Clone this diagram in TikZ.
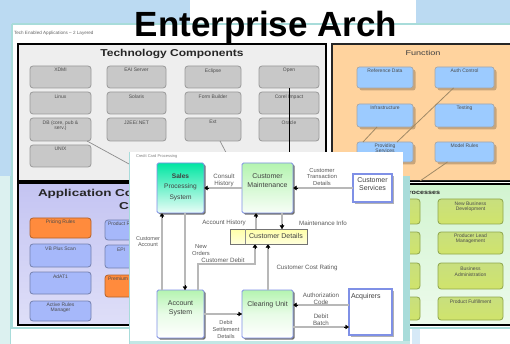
\documentclass[tikz,border=0pt]{standalone}
\usepackage{fontspec}
\setmainfont{Liberation Sans}
\usetikzlibrary{arrows.meta,calc}
\definecolor{bgblue}{HTML}{BBDAF2}
\definecolor{tealc}{HTML}{A8DCDA}
\definecolor{techpanel}{HTML}{EEEEEE}
\definecolor{techgray}{HTML}{C8C8C8}
\definecolor{funcpanel}{HTML}{FFD39E}
\definecolor{funcblue}{HTML}{9CCBFF}
\definecolor{funcshadow}{HTML}{C9A57A}
\definecolor{funcline}{HTML}{A08A66}
\definecolor{apppanel}{HTML}{C4C4F2}
\definecolor{appblue}{HTML}{A6B8FA}
\definecolor{apporange}{HTML}{FF8B3D}
\definecolor{procpanel}{HTML}{D2F4D0}
\definecolor{procgreen}{HTML}{C8DF7E}
\definecolor{procedge}{HTML}{8FA64C}
\definecolor{flowgrey}{HTML}{B8B8B8}
\definecolor{nodeblue}{HTML}{7F90E6}
\definecolor{salestop}{HTML}{00E6A2}
\definecolor{greentop}{HTML}{B4F4B0}
\definecolor{yellowbox}{HTML}{FFFFA8}
\begin{document}
\begin{tikzpicture}[x=1pt,y=-1pt,
  every node/.style={inner sep=0pt,outer sep=0pt},
  techbox/.style={draw=black!40,fill=techgray,rounded corners=3pt,line width=0.8pt,minimum height=22},
  tinytxt/.style={font=\fontsize{5}{5.6}\selectfont,text=black!70,align=center},
  funcbox/.style={draw=black!35,fill=funcblue,rounded corners=2.5pt,line width=0.7pt,
     preaction={fill=funcshadow,transform canvas={shift={(2.5pt,-2.5pt)}}}},
  appbox/.style={draw=appblue!70!black,fill=appblue,rounded corners=3pt,line width=0.8pt},
  apporng/.style={draw=apporange!70!black,fill=apporange,rounded corners=3pt,line width=0.8pt},
  procbox/.style={draw=procedge,top color=procgreen,bottom color=procgreen!85!yellow,rounded corners=3pt,line width=0.8pt},
  fgnode/.style={draw=nodeblue,line width=0.9pt,rounded corners=1.5pt,
     preaction={fill=black!55,transform canvas={shift={(1.6pt,-1.6pt)}}}},
  fgwhite/.style={draw=nodeblue,fill=white,line width=1.4pt,
     preaction={fill=black!30,transform canvas={shift={(1.6pt,-1.6pt)}}}},
  nodetxt/.style={font=\fontsize{7}{8.4}\selectfont,text=black!75,align=center},
  lbl/.style={font=\fontsize{6.2}{6.8}\selectfont,text=black!65,align=center},
  flow/.style={draw=flowgrey,line width=1.6pt},
  tip/.style={-{Triangle[width=4.5pt,length=3.5pt,black]}}
]
\useasboundingbox (0,0) rectangle (510,344);
% background
\fill[white] (0,0) rectangle (510,344);
\fill[bgblue] (0,0) rectangle (190,24);
\fill[bgblue] (0,0) rectangle (12,176);
\fill[bgblue] (416,0) rectangle (510,24);
\fill[tealc!40] (0,176) rectangle (10,344);
\draw[tealc,line width=1pt] (10,176) -- (10,344);
% window
\fill[white] (12,24) rectangle (510,328);
\draw[tealc,line width=1.4pt] (12,24) -- (510,24);
\draw[tealc,line width=1.4pt] (12,24) -- (12,328) -- (510,328);
\fill[bgblue!60] (412,329) rectangle (420,344);
\node[anchor=west,font=\fontsize{4.6}{5}\selectfont,text=black!60] (wintitle) at (14,33) {Tech Enabled Applications -- 2 Layered};

% ---------------- Technology Components panel
\filldraw[fill=techpanel,draw=black,line width=1.5pt] (18,44) rectangle (326,181);
\node[font=\bfseries\fontsize{10}{10}\selectfont,text=black!85] (techtitle) at (172,54) {\scalebox{1.2}[1]{Technology Components}};
\node[techbox,minimum width=61] (t11) at (60.5,77) {};
\node[techbox,minimum width=59] (t12) at (136.5,77) {};
\node[techbox,minimum width=56] (t13) at (213,77) {};
\node[techbox,minimum width=60] (t14) at (289,77) {};
\node[techbox,minimum width=61] (t21) at (60.5,103) {};
\node[techbox,minimum width=59] (t22) at (136.5,103) {};
\node[techbox,minimum width=56] (t23) at (213,103) {};
\node[techbox,minimum width=60] (t24) at (289,103) {};
\node[techbox,minimum width=61,minimum height=23] (t31) at (60.5,129.5) {};
\node[techbox,minimum width=59,minimum height=23] (t32) at (136.5,129.5) {};
\node[techbox,minimum width=56,minimum height=23] (t33) at (213,129.5) {};
\node[techbox,minimum width=60,minimum height=23] (t34) at (289,129.5) {};
\node[techbox,minimum width=61] (t41) at (60.5,156) {};
\node[tinytxt,anchor=north] (t11l) at ([yshift=-2.5pt]t11.north) {XDMI};
\node[tinytxt,anchor=north] (t12l) at ([yshift=-2.5pt]t12.north) {EAI Server};
\node[tinytxt,anchor=north] (t13l) at ([yshift=-2.5pt]t13.north) {Eclipse};
\node[tinytxt,anchor=north] (t14l) at ([yshift=-2.5pt]t14.north) {Open};
\node[tinytxt,anchor=north] (t21l) at ([yshift=-2.5pt]t21.north) {Linux};
\node[tinytxt,anchor=north] (t22l) at ([yshift=-2.5pt]t22.north) {Solaris};
\node[tinytxt,anchor=north] (t23l) at ([yshift=-2.5pt]t23.north) {Form Builder};
\node[tinytxt,anchor=north] (t24l) at ([yshift=-2.5pt]t24.north) {Corel Impact};
\node[tinytxt,anchor=north] (t31l) at ([yshift=-2.5pt]t31.north) {DB (core, pub \&\\serv.)};
\node[tinytxt,anchor=north] (t32l) at ([yshift=-2.5pt]t32.north) {J2EE/.NET};
\node[tinytxt,anchor=north] (t33l) at ([yshift=-2.5pt]t33.north) {Ext};
\node[tinytxt,anchor=north] (t34l) at ([yshift=-2.5pt]t34.north) {Oracle};
\node[tinytxt,anchor=north] (t41l) at ([yshift=-2.5pt]t41.north) {UNIX};
\coordinate (techend1) at (140,170);
\coordinate (techend2) at (232,164);
\coordinate (techend3) at (289,165);
\draw[black!45,line width=0.7pt] ([xshift=-4pt]t31.south east) -- (techend1);
\draw[black!45,line width=0.7pt] ([xshift=7pt]t33.south) -- (techend2);
\draw[black,line width=0.8pt] (t14.south) -- (techend3);

% ---------------- Function panel
\filldraw[fill=funcpanel,draw=black!85,line width=1.5pt] (332,44) rectangle (512,181);
\node[font=\fontsize{7}{7}\selectfont,text=black!75] (functitle) at (423,53) {\scalebox{1.3}[1]{Function}};
\node[funcbox,minimum width=56,minimum height=21] (f11) at (385,77.5) {};
\node[funcbox,minimum width=59,minimum height=21] (f12) at (464.5,77.5) {};
\node[funcbox,minimum width=56,minimum height=23] (f21) at (385,115.5) {};
\node[funcbox,minimum width=59,minimum height=23] (f22) at (464.5,115.5) {};
\node[funcbox,minimum width=56,minimum height=20] (f31) at (385,152) {};
\node[funcbox,minimum width=59,minimum height=20] (f32) at (464.5,152) {};
\node[tinytxt,anchor=north] (f11l) at ([yshift=-2pt]f11.north) {Reference Data};
\node[tinytxt,anchor=north] (f12l) at ([yshift=-2pt]f12.north) {Auth Control};
\node[tinytxt,anchor=north] (f21l) at ([yshift=-2pt]f21.north) {Infrastructure};
\node[tinytxt,anchor=north] (f22l) at ([yshift=-2pt]f22.north) {Testing};
\node[tinytxt,anchor=north] (f31l) at ([yshift=-1.5pt]f31.north) {Providing\\Services};
\node[tinytxt,anchor=north] (f32l) at ([yshift=-2pt]f32.north) {Model Rules};
\coordinate (funcend3) at (420,181);
\draw[funcline,line width=0.8pt] ([xshift=-11pt]f12.south) -- ([xshift=12pt]f31.north);
\draw[funcline,line width=0.8pt] ([xshift=-8pt]f21.south) -- ([xshift=-22pt]f31.north);
\draw[funcline,line width=0.8pt] ([xshift=-17pt]f32.south) -- (funcend3);

% ---------------- Application Components panel
\shade[top color=apppanel,bottom color=apppanel!55!white] (18,183) rectangle (400,325);
\draw[black,line width=1.5pt] (18,183) rectangle (400,325);
\node[anchor=west,font=\bfseries\fontsize{10}{10}\selectfont,text=black!85] (apptitle) at (38,194) {\scalebox{1.35}[1]{Application Components}};
\node[anchor=west,font=\bfseries\fontsize{10}{10}\selectfont,text=black!85] (apptitle2) at (119,207) {\scalebox{1.35}[1]{Catalogue}};
\node[apporng,minimum width=61,minimum height=20] (a11) at (60.5,228) {};
\node[appbox,minimum width=61,minimum height=23] (a21) at (60.5,255.5) {};
\node[appbox,minimum width=61,minimum height=22] (a31) at (60.5,283) {};
\node[appbox,minimum width=61,minimum height=20] (a41) at (60.5,311) {};
\node[appbox,minimum width=60,minimum height=20] (a12) at (135,230) {};
\node[appbox,minimum width=60,minimum height=23] (a22) at (135,256.5) {};
\node[apporng,minimum width=60,minimum height=22] (a32) at (135,286) {};
\node[tinytxt,anchor=north] (a11l) at ([yshift=-2pt]a11.north) {Pricing Rules};
\node[tinytxt,anchor=north] (a21l) at ([yshift=-2.5pt]a21.north) {VB Plus Scan};
\node[tinytxt,anchor=north] (a31l) at ([yshift=-2.5pt]a31.north) {AdAT1};
\node[tinytxt,anchor=north] (a41l) at ([yshift=-1.5pt]a41.north) {Active Rules\\Manager};
\node[tinytxt,anchor=north west] (a12l) at ([shift={(3pt,-2pt)}]a12.north west) {Product Rules};
\node[tinytxt,anchor=north west] (a22l) at ([shift={(12pt,-3pt)}]a22.north west) {EPI};
\node[tinytxt,anchor=north west] (a32l) at ([shift={(3pt,-2pt)}]a32.north west) {Premium Calc};

% ---------------- Processes panel
\shade[top color=procpanel,bottom color=procpanel!40!white] (406,184) rectangle (512,324);
\draw[black,line width=0.8pt] (406,181.5) -- (512,181.5);
\draw[black,line width=1.5pt] (406,184) -- (512,184);
\draw[black,line width=2pt] (406,324.5) -- (512,324.5);
\node[anchor=west,font=\bfseries\fontsize{6}{6}\selectfont,text=black!85] (proctitle) at (404,192) {\scalebox{1.2}[1]{Processes}};
\node[procbox,minimum width=60,minimum height=25] (q1) at (390,211.5) {};
\node[procbox,minimum width=60,minimum height=22] (q2) at (390,243) {};
\node[procbox,minimum width=60,minimum height=26] (q3) at (390,276) {};
\node[procbox,minimum width=60,minimum height=23] (q4) at (390,308.5) {};
\node[procbox,minimum width=65,minimum height=25] (p1) at (470.5,211.5) {};
\node[procbox,minimum width=65,minimum height=22] (p2) at (470.5,243) {};
\node[procbox,minimum width=65,minimum height=26] (p3) at (470.5,276) {};
\node[procbox,minimum width=65,minimum height=23] (p4) at (470.5,308.5) {};
\node[tinytxt,anchor=north] (p1l) at ([yshift=-2.5pt]p1.north) {New Business\\Development};
\node[tinytxt,anchor=north] (p2l) at ([yshift=-1.5pt]p2.north) {Producer Lead\\Management};
\node[tinytxt,anchor=north] (p3l) at ([yshift=-4pt]p3.north) {Business\\Administration};
\node[tinytxt,anchor=north] (p4l) at ([yshift=-2.5pt]p4.north) {Product Fulfillment};

% ---------------- foreground diagram sheet
\fill[tealc] (403,176) rectangle (410,344);
\fill[tealc!70] (130,341) rectangle (410,344);
\fill[white] (130,152) rectangle (403,341);
\draw[tealc,line width=1.2pt] (129.5,152) -- (129.5,344);
\node[anchor=west,font=\fontsize{4}{4}\selectfont,text=black!50] (fgtitle) at (136,156) {Credit Card Processing};

% nodes
\node[fgnode,top color=salestop,bottom color=salestop!8!white,minimum width=47,minimum height=50] (Sales) at (180.5,188) {};
\node[nodetxt,font=\bfseries\fontsize{6.6}{6.6}\selectfont] (Sales1) at (180.5,176.5) {Sales};
\node[nodetxt,font=\fontsize{6.6}{6.6}\selectfont] (Sales2) at (180.5,186.5) {Processing};
\node[nodetxt,font=\fontsize{6.6}{6.6}\selectfont] (Sales3) at (180.5,197.5) {System};
\node[fgnode,top color=greentop,bottom color=greentop!10!white,minimum width=51,minimum height=50] (CM) at (267.5,188) {};
\node[nodetxt,anchor=north] (CMl) at ([yshift=-11pt]CM.north) {Customer\\Maintenance};
\node[fgwhite,minimum width=39,minimum height=28] (CS) at (372.5,188) {};
\node[nodetxt,anchor=north] (CSl) at ([yshift=-3.5pt]CS.north) {Customer\\Services};
\node[draw=black!55,line width=0.8pt,top color=yellowbox,bottom color=yellowbox!40!white,minimum width=77,minimum height=15,
  preaction={fill=black!50,transform canvas={shift={(1.4pt,-1.4pt)}}}] (CD) at (268.5,236.5) {};
\coordinate (cdsep) at (245,0);
\draw[black!45,line width=0.6pt] (CD.north -| cdsep) -- (CD.south -| cdsep);
\node[nodetxt] (CDl) at (276,236) {Customer Details};
\node[fgnode,top color=greentop,bottom color=white,middle color=greentop!30!white,minimum width=47,minimum height=48] (AS) at (180.5,314) {};
\node[nodetxt,anchor=north] (ASl) at ([yshift=-11pt]AS.north) {Account\\System};
\node[fgnode,top color=greentop,bottom color=white,middle color=greentop!30!white,minimum width=51,minimum height=48] (CU) at (267.5,314) {};
\node[nodetxt,anchor=north] (CUl) at ([yshift=-11pt]CU.north) {Clearing Unit};
\node[fgwhite,minimum width=43,minimum height=46] (AQ) at (370.5,312) {};
\node[nodetxt,anchor=north west] (AQl) at ([shift={(2pt,-4pt)}]AQ.north west) {Acquirers};

% connector helper coordinates
\coordinate (ahx) at (256,0);
\coordinate (mix) at (282,0);
\coordinate (cax) at (162,0);
\coordinate (nox) at (185,0);
\coordinate (cdx) at (198,0);
\coordinate (cdcorner) at (255,264);
\coordinate (ccx) at (268,0);
\coordinate (auy) at (0,305);
\coordinate (dby) at (0,327);

% connectors
\draw[flow] (CM.west) -- (Sales.east);
\draw[tip] ([xshift=5pt]Sales.east) -- (Sales.east);
\draw[flow] (CS.west) -- (CM.east);
\draw[tip] ([xshift=5pt]CM.east) -- (CM.east);
\draw[flow] (CD.north -| ahx) -- (CM.south -| ahx);
\draw[tip] ([yshift=-5pt]CM.south -| ahx) -- (CM.south -| ahx);
\draw[flow] (CM.south -| mix) -- (CD.north -| mix);
\draw[tip] ([yshift=5pt]CD.north -| mix) -- (CD.north -| mix);
\draw[flow] (AS.north -| cax) -- (Sales.south -| cax);
\draw[tip] ([yshift=-5pt]Sales.south -| cax) -- (Sales.south -| cax);
\draw[flow] (Sales.south -| nox) -- (AS.north -| nox);
\draw[tip] ([yshift=5pt]AS.north -| nox) -- (AS.north -| nox);
\draw[flow] (AS.north -| cdx) |- (cdcorner) -- (CD.south -| cdcorner);
\draw[tip] ([yshift=-5pt]CD.south -| cdcorner) -- (CD.south -| cdcorner);
\draw[flow] (CU.north -| ccx) -- (CD.south -| ccx);
\draw[tip] ([yshift=-5pt]CD.south -| ccx) -- (CD.south -| ccx);
\draw[flow] (AS.east) -- (CU.west);
\draw[tip] ([xshift=-5pt]CU.west) -- (CU.west);
\draw[flow] (AQ.west |- auy) -- (CU.east |- auy);
\draw[tip] ([xshift=5pt]CU.east |- auy) -- (CU.east |- auy);
\draw[flow] (CU.east |- dby) -- (AQ.west |- dby);
\draw[tip] ([xshift=-5pt]AQ.west |- dby) -- (AQ.west |- dby);

% connector labels
\node[lbl] (l1) at (224,180) {Consult\\History};
\node[lbl,font=\fontsize{5.8}{6.4}\selectfont] (l2) at (322,177) {Customer\\Transaction\\Details};
\node[lbl] (l3) at (224,223) {Account History};
\node[lbl] (l4) at (323,223) {Maintenance Info};
\node[lbl,font=\fontsize{5.5}{6}\selectfont] (l5) at (148,242) {Customer\\Account};
\node[lbl,font=\fontsize{5.8}{6.4}\selectfont] (l6) at (201,250) {New\\Orders};
\node[lbl] (l7) at (223,260) {Customer Debit};
\node[lbl] (l8) at (307,268) {Customer Cost Rating};
\node[lbl,font=\fontsize{5.6}{7}\selectfont] (l9) at (226,329) {Debit\\Settlement\\Details};
\node[lbl] (l10) at (321,299) {Authorization\\Code};
\node[lbl] (l11) at (321,320) {Debit\\Batch};

% ---------------- big title
\node[anchor=base,font=\bfseries\fontsize{35}{35}\selectfont] (title) at (266,37) {Enterprise Arch};
\end{tikzpicture}
\end{document}
